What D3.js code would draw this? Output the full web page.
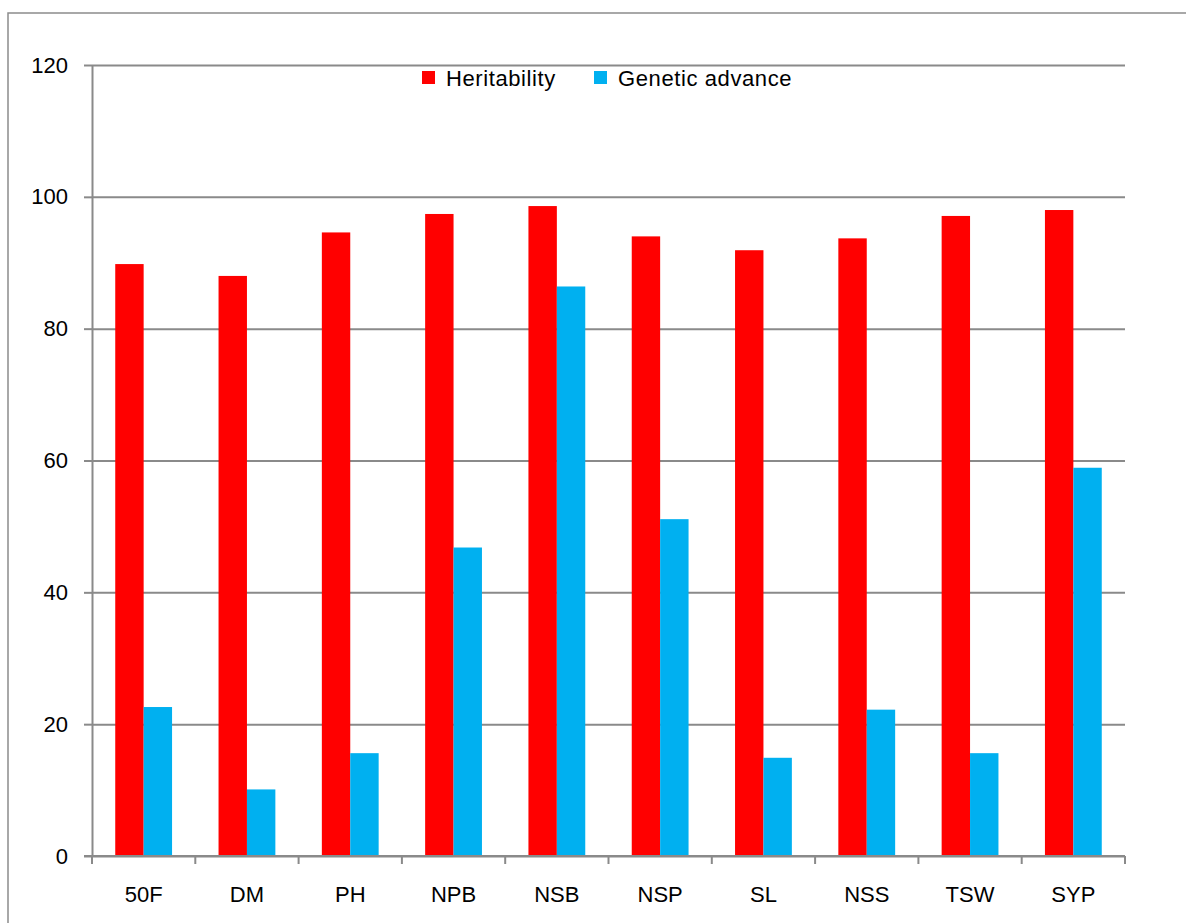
<!DOCTYPE html>
<html>
<head>
<meta charset="utf-8">
<script src="https://cdn.jsdelivr.net/npm/d3@7/dist/d3.min.js"></script>
<style>
  body { margin: 0; background: #fff; }
  text { font-family: "Liberation Sans", Arial, sans-serif; fill: #000; }
</style>
</head>
<body>
<svg id="chart" width="1186" height="923"></svg>
<script>
var categories = ['50F', 'DM', 'PH', 'NPB', 'NSB', 'NSP', 'SL', 'NSS', 'TSW', 'SYP'];
var seriesNames = ['Heritability', 'Genetic advance'];
var heritability = [89.8, 88.0, 94.6, 97.4, 98.6, 94.0, 91.9, 93.7, 97.1, 98.0];
var geneticAdvance = [22.6, 10.1, 15.6, 46.8, 86.4, 51.1, 14.9, 22.2, 15.6, 58.9];
var yTicks = [0, 20, 40, 60, 80, 100, 120];

(function () {
  var colors = ['#ff0000', '#00b0f0'],
      gridColor = '#8a8a8a',
      plotLeft = 92, plotRight = 1125, plotTop = 65, plotBottom = 856;

  var svg = d3.select('#chart');

  // outer frame of the chart area (right and bottom edges run off the page)
  svg.append('rect')
    .attr('x', 8).attr('y', 13)
    .attr('width', 1300).attr('height', 1000)
    .attr('fill', 'none')
    .attr('stroke', '#8c8c8c')
    .attr('stroke-width', 1.5);

  var rows = categories.map(function (c, i) {
    return { cat: c, values: [heritability[i], geneticAdvance[i]] };
  });

  var x0 = d3.scaleBand().domain(categories).range([plotLeft, plotRight])
    .paddingInner(0.45).paddingOuter(0.225);
  var x1 = d3.scaleBand().domain(d3.range(seriesNames.length)).range([0, x0.bandwidth()]);
  var y = d3.scaleLinear().domain([0, 120]).range([plotBottom, plotTop]);

  // gridlines
  var grid = svg.append('g')
    .attr('transform', 'translate(' + plotLeft + ',0)')
    .call(d3.axisLeft(y).tickValues(yTicks).tickSize(-(plotRight - plotLeft)).tickFormat(''));
  grid.select('.domain').remove();
  grid.selectAll('line').attr('stroke', gridColor).attr('stroke-width', 2);

  // y axis
  var yAxis = svg.append('g')
    .attr('transform', 'translate(' + plotLeft + ',0)')
    .call(d3.axisLeft(y).tickValues(yTicks).tickSize(8).tickPadding(16).tickSizeOuter(0));
  yAxis.select('.domain').attr('stroke', gridColor).attr('stroke-width', 2);
  yAxis.selectAll('line').attr('stroke', gridColor).attr('stroke-width', 2);
  yAxis.selectAll('text').style('font-size', '22px').attr('fill', '#000');

  // bars
  var groups = svg.append('g').selectAll('g')
    .data(rows).enter().append('g')
    .attr('transform', function (d) { return 'translate(' + x0(d.cat) + ',0)'; });

  groups.selectAll('rect')
    .data(function (d) { return d.values; })
    .enter().append('rect')
    .attr('x', function (d, i) { return x1(i); })
    .attr('y', function (d) { return y(d); })
    .attr('width', x1.bandwidth())
    .attr('height', function (d) { return y(0) - y(d); })
    .attr('fill', function (d, i) { return colors[i]; });

  // x axis: labels under categories, ticks between them
  var xAxis = svg.append('g')
    .attr('transform', 'translate(0,' + plotBottom + ')')
    .call(d3.axisBottom(x0).tickSize(0).tickPadding(30));
  xAxis.select('.domain').remove();
  xAxis.selectAll('text').style('font-size', '22px').attr('fill', '#000');

  var bounds = d3.range(categories.length + 1).map(function (i) { return plotLeft + i * x0.step(); });
  svg.append('g').selectAll('line')
    .data(bounds).enter().append('line')
    .attr('x1', function (d) { return d; }).attr('x2', function (d) { return d; })
    .attr('y1', plotBottom).attr('y2', plotBottom + 8)
    .attr('stroke', gridColor).attr('stroke-width', 2);
  svg.append('line')
    .attr('x1', plotLeft - 8).attr('x2', plotRight)
    .attr('y1', plotBottom).attr('y2', plotBottom)
    .attr('stroke', gridColor).attr('stroke-width', 2);

  // legend
  var legendX = [422, 594];
  var legend = svg.append('g').selectAll('g')
    .data(seriesNames).enter().append('g')
    .attr('transform', function (d, i) { return 'translate(' + legendX[i] + ',71)'; });
  legend.append('rect')
    .attr('width', 13).attr('height', 13)
    .attr('fill', function (d, i) { return colors[i]; });
  legend.append('text')
    .attr('x', 24).attr('y', 15)
    .style('font-size', '22px')
    .style('letter-spacing', '0.6px')
    .text(function (d) { return d; });
})();
</script>
</body>
</html>
